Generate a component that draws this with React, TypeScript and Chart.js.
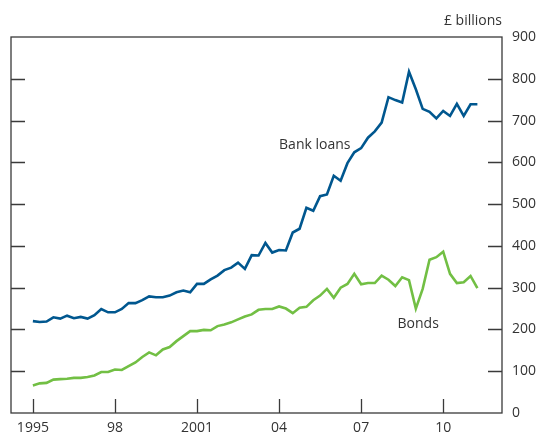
import React, { useEffect, useRef } from "react";
import { Chart, registerables } from "chart.js";

Chart.register(...registerables);

// Quarterly observations, 1995 Q1 to 2011 Q2
const startYear = 1995;
const bankLoans = [
  220, 218, 219, 229, 226, 233, 227, 230, 226, 234, 249, 241,
  241, 249, 263, 263, 270, 279, 277, 277, 281, 289, 293, 289,
  309, 309, 320, 329, 342, 348, 360, 345, 378, 377, 407, 384,
  390, 389, 432, 441, 491, 484, 519, 523, 568, 556, 598, 624,
  634, 659, 674, 695, 756, 749, 743, 817, 775, 728, 721, 705,
  723, 711, 740, 711, 739, 739,
];
const bonds = [
  66, 71, 72, 80, 81, 82, 84, 84, 86, 90, 98, 98,
  104, 103, 112, 121, 134, 145, 138, 152, 158, 172, 184, 196,
  196, 199, 198, 208, 212, 217, 224, 231, 236, 247, 249, 249,
  255, 250, 239, 252, 254, 270, 281, 297, 276, 300, 309, 333,
  308, 311, 311, 329, 319, 304, 325, 318, 250, 297, 367, 373,
  386, 333, 311, 313, 328, 299,
];
const xTickValues = [1995, 1998, 2001, 2004, 2007, 2010];
const xTickLabels = ["1995", "98", "2001", "04", "07", "10"];
const yTickValues = [0, 100, 200, 300, 400, 500, 600, 700, 800, 900];
const seriesLabels = ["Bank loans", "Bonds"];
const unitLabel = "£ billions";

const FONT = "'Open Sans', 'Noto Sans', sans-serif";
const FSIZE = 14;
const TEXT = "#333333";
const AXIS = "#3a3a3a";

const toPoints = (vals: number[]) =>
  vals.map((v, i) => ({ x: startYear + i / 4, y: v }));

export default function App() {
  const ref = useRef<HTMLCanvasElement | null>(null);

  useEffect(() => {
    if (!ref.current) return;
    const frame = {
      id: "frame",
      afterDraw(chart: any) {
        const { ctx, chartArea: a, scales } = chart;
        const xs = scales.x;
        const ys = scales.y;
        ctx.save();
        ctx.strokeStyle = AXIS;
        ctx.lineWidth = 1.3;
        ctx.strokeRect(a.left, a.top, a.right - a.left, a.bottom - a.top);
        ctx.beginPath();
        const tl = 14;
        xTickValues.forEach((v) => {
          const px = Math.round(xs.getPixelForValue(v)) + 0.5;
          ctx.moveTo(px, a.bottom);
          ctx.lineTo(px, a.bottom - tl);
        });
        yTickValues.forEach((v) => {
          if (v === 0 || v === 900) return;
          const py = Math.round(ys.getPixelForValue(v)) + 0.5;
          ctx.moveTo(a.left, py);
          ctx.lineTo(a.left + tl, py);
          ctx.moveTo(a.right, py);
          ctx.lineTo(a.right - tl, py);
        });
        ctx.stroke();

        ctx.fillStyle = TEXT;
        ctx.font = `${FSIZE}px ${FONT}`;
        ctx.textBaseline = "middle";
        ctx.textAlign = "right";
        ctx.fillText(unitLabel, a.right, 21);
        ctx.textAlign = "left";
        ctx.fillText(
          seriesLabels[0],
          xs.getPixelForValue(2004.0),
          ys.getPixelForValue(642)
        );
        ctx.fillText(
          seriesLabels[1],
          xs.getPixelForValue(2008.33),
          ys.getPixelForValue(212)
        );
        ctx.restore();
      },
    };

    const chart = new Chart(ref.current, {
      type: "line",
      data: {
        datasets: [
          {
            label: seriesLabels[0],
            data: toPoints(bankLoans),
            borderColor: "#00578f",
            borderWidth: 2.6,
            pointRadius: 0,
            tension: 0,
          },
          {
            label: seriesLabels[1],
            data: toPoints(bonds),
            borderColor: "#72bf44",
            borderWidth: 2.6,
            pointRadius: 0,
            tension: 0,
          },
        ],
      },
      options: {
        animation: false,
        responsive: false,
        maintainAspectRatio: false,
        layout: { padding: { left: 11, top: 37, right: 0, bottom: 0 } },
        plugins: {
          legend: { display: false },
          tooltip: { enabled: false },
          title: { display: false },
        },
        scales: {
          x: {
            type: "linear",
            min: 1994.2,
            max: 2012.15,
            grid: { display: false, drawTicks: false },
            border: { display: false },
            afterBuildTicks: (s: any) => {
              s.ticks = xTickValues.map((v) => ({ value: v }));
            },
            afterFit: (s: any) => {
              s.height = 21;
            },
            ticks: {
              autoSkip: false,
              maxRotation: 0,
              padding: 7,
              color: TEXT,
              font: { family: FONT, size: FSIZE },
              callback: (v: any) => {
                const i = xTickValues.indexOf(Number(v));
                return i >= 0 ? xTickLabels[i] : "";
              },
            },
          },
          y: {
            position: "right",
            min: 0,
            max: 900,
            grid: { display: false, drawTicks: false },
            border: { display: false },
            afterBuildTicks: (s: any) => {
              s.ticks = yTickValues.map((v) => ({ value: v }));
            },
            afterFit: (s: any) => {
              s.width = 36;
            },
            ticks: {
              padding: 10,
              color: TEXT,
              font: { family: FONT, size: FSIZE },
            },
          },
        },
      },
      plugins: [frame],
    });
    return () => chart.destroy();
  }, []);

  return (
    <div style={{ position: "fixed", left: 0, top: 0, width: 538, height: 434, background: "#fff" }}>
      <canvas ref={ref} width={538} height={434} style={{ display: "block" }} />
    </div>
  );
}
